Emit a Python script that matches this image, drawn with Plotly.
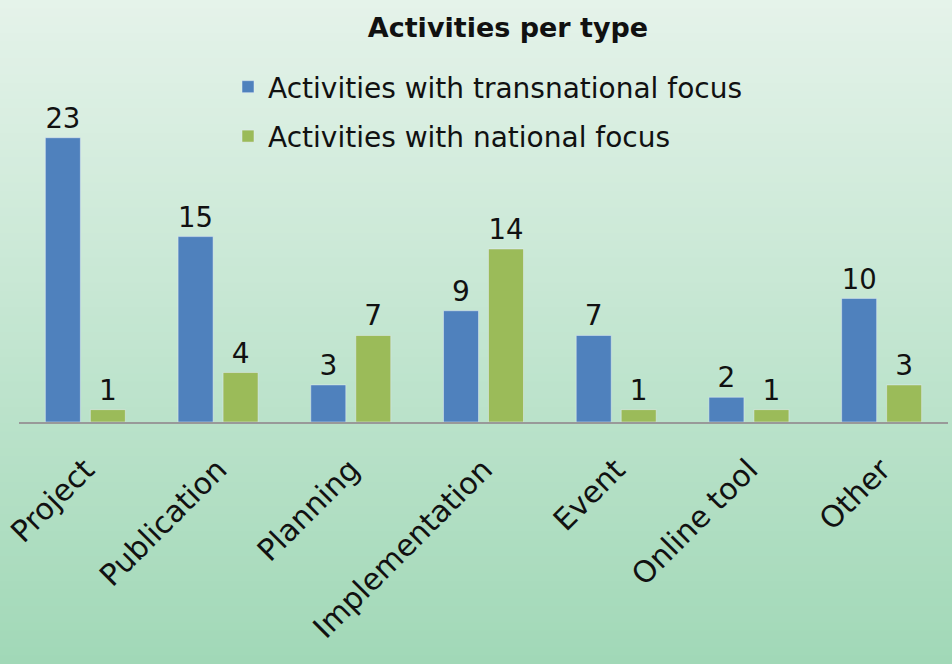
import plotly.graph_objects as go

categories = ["Project", "Publication", "Planning", "Implementation", "Event", "Online tool", "Other"]
transnational = [23, 15, 3, 9, 7, 2, 10]
national = [1, 4, 7, 14, 1, 1, 3]
series_names = ["Activities with transnational focus", "Activities with national focus"]
colors = ["#4F81BD", "#9BBB59"]

W, Hpx = 952, 664
ml, mr, mt, mb = 19, 4, 113, 242
ph = Hpx - mt - mb
pw = W - ml - mr

fig = go.Figure()
for i, (name, vals, col) in enumerate(zip(series_names, [transnational, national], colors)):
    fig.add_trace(go.Bar(
        x=categories, y=vals, name=name, marker_color=col,
        legendgroup="g%d" % i,
        text=vals, textposition="outside", cliponaxis=False,
        textfont=dict(size=28, color="#111111"),
    ))

# gradient background strips
shapes = []
n = 80
top = (229, 243, 234)
bot = (161, 216, 183)
for i in range(n):
    p0 = i * Hpx / n
    p1 = (i + 1) * Hpx / n + 1
    t = (i + 0.5) / n
    c = tuple(int(round(top[k] + (bot[k] - top[k]) * t)) for k in range(3))
    shapes.append(dict(
        type="rect", xref="paper", yref="paper", layer="below",
        x0=-ml / pw - 0.01, x1=1 + mr / pw + 0.01,
        y0=(Hpx - mb - p1) / ph, y1=(Hpx - mb - p0) / ph,
        fillcolor="rgb(%d,%d,%d)" % c, line=dict(width=0),
    ))

fig.update_layout(
    width=W, height=Hpx,
    margin=dict(l=ml, r=mr, t=mt, b=mb),
    paper_bgcolor="rgb(200,230,210)",
    plot_bgcolor="rgba(0,0,0,0)",
    font=dict(family="DejaVu Sans", color="#111111"),
    title=dict(text="<b>Activities per type</b>", x=508 / W, xanchor="center",
               y=1 - 28 / Hpx, yanchor="middle", font=dict(size=27)),
    barmode="group", bargap=0.322, bargroupgap=0.222,
    showlegend=True,
    legend=dict(x=(228 - ml) / pw, y=(Hpx - mb - 62) / ph, xref="paper", yref="paper",
                xanchor="left", yanchor="top",
                font=dict(size=28), bgcolor="rgba(0,0,0,0)",
                itemwidth=30, tracegroupgap=10, traceorder="grouped"),
    shapes=shapes,
)
fig.update_xaxes(showline=True, linecolor="#999999", linewidth=2, tickangle=-45,
                 tickfont=dict(size=30), ticks="", showgrid=False, ticklabelstandoff=16)
fig.update_yaxes(range=[0, 25], visible=False, showgrid=False)

fig.write_html("out.html", config={"displayModeBar": False},
               post_script="document.body.style.margin='0';document.body.style.overflow='hidden';")
